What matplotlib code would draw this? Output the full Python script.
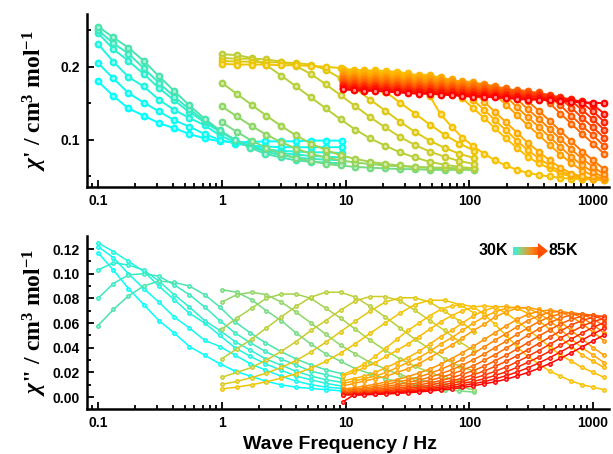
import numpy as np
import matplotlib
matplotlib.use("Agg")
import matplotlib.pyplot as plt
from matplotlib.colors import LinearSegmentedColormap
from matplotlib.patches import Polygon, Rectangle
from matplotlib.ticker import FixedLocator, LogLocator, NullFormatter

plt.rcParams['font.family'] = 'Liberation Sans'
plt.rcParams['font.weight'] = 'bold'
plt.rcParams['mathtext.fontset'] = 'custom'
plt.rcParams['mathtext.rm'] = 'Liberation Serif:bold'
plt.rcParams['mathtext.it'] = 'Liberation Serif:italic:bold'
plt.rcParams['mathtext.bf'] = 'Liberation Serif:bold'

# three frequency windows of the ac measurement (Hz)
freq_a = [0.100, 0.133, 0.176, 0.234, 0.310, 0.412, 0.547, 0.727, 0.964,
          1.28, 1.70, 2.25, 2.99, 3.97, 5.27, 7.00, 9.29]
freq_b = [1.00, 1.32, 1.74, 2.29, 3.02, 3.98, 5.25, 6.92, 9.12, 12.0,
          15.8, 20.9, 27.5, 36.3, 47.9, 63.1, 83.2, 110]
freq_c = [9.46, 11.6, 14.2, 17.4, 21.3, 26.1, 31.9, 39.1, 47.9, 58.6, 71.8,
          87.9, 108, 132, 161, 198, 242, 296, 363, 445, 545, 667, 817, 1000, 1225]

# in-phase susceptibility chi' (cm3/mol), lowest temperatures first
chi1_a = [
    [0.180, 0.160, 0.143, 0.133, 0.123, 0.116, 0.108, 0.102, 0.098, 0.097, 0.097, 0.098, 0.098, 0.098, 0.099, 0.099, 0.099],
    [0.205, 0.184, 0.164, 0.151, 0.139, 0.127, 0.118, 0.108, 0.100, 0.095, 0.092, 0.091, 0.090, 0.090, 0.090, 0.090, 0.090],
    [0.231, 0.207, 0.186, 0.173, 0.155, 0.141, 0.130, 0.120, 0.106, 0.097, 0.091, 0.087, 0.085, 0.084, 0.083, 0.083, 0.082],
    [0.246, 0.224, 0.208, 0.190, 0.171, 0.154, 0.138, 0.124, 0.111, 0.100, 0.092, 0.086, 0.082, 0.080, 0.078, 0.077, 0.076],
    [0.250, 0.232, 0.218, 0.198, 0.178, 0.159, 0.142, 0.126, 0.112, 0.100, 0.091, 0.084, 0.079, 0.076, 0.074, 0.073, 0.072],
    [0.255, 0.240, 0.226, 0.208, 0.187, 0.167, 0.147, 0.129, 0.113, 0.100, 0.089, 0.081, 0.076, 0.072, 0.070, 0.069, 0.068],
]
chi1_b = [
    [0.124, 0.111, 0.099, 0.089, 0.081, 0.075, 0.071, 0.067, 0.065, 0.063, 0.062, 0.061, 0.060, 0.060, 0.059, 0.059, 0.059, 0.059],
    [0.146, 0.132, 0.119, 0.107, 0.097, 0.088, 0.081, 0.076, 0.072, 0.069, 0.067, 0.065, 0.064, 0.063, 0.062, 0.062, 0.061, 0.061],
    [0.178, 0.163, 0.148, 0.133, 0.119, 0.106, 0.095, 0.086, 0.079, 0.074, 0.070, 0.067, 0.065, 0.063, 0.062, 0.061, 0.060, 0.060],
    [0.217, 0.216, 0.212, 0.202, 0.188, 0.173, 0.158, 0.143, 0.128, 0.114, 0.102, 0.092, 0.083, 0.076, 0.070, 0.066, 0.063, 0.061],
    [0.212, 0.211, 0.211, 0.210, 0.207, 0.201, 0.190, 0.176, 0.161, 0.146, 0.131, 0.117, 0.104, 0.093, 0.084, 0.077, 0.071, 0.067],
    [0.208, 0.207, 0.207, 0.206, 0.206, 0.205, 0.203, 0.196, 0.184, 0.170, 0.155, 0.140, 0.125, 0.111, 0.099, 0.089, 0.081, 0.075],
    [0.204, 0.203, 0.203, 0.203, 0.202, 0.202, 0.201, 0.200, 0.198, 0.192, 0.180, 0.166, 0.151, 0.136, 0.121, 0.107, 0.095, 0.085],
]
chi1_c = [
    [0.197, 0.196, 0.195, 0.195, 0.194, 0.193, 0.191, 0.184, 0.160, 0.135, 0.118, 0.103, 0.091, 0.081, 0.072, 0.065, 0.059, 0.055, 0.052, 0.050, 0.048, 0.047, 0.046, 0.046, 0.045],
    [0.195, 0.194, 0.193, 0.193, 0.192, 0.191, 0.190, 0.189, 0.189, 0.183, 0.171, 0.157, 0.143, 0.130, 0.116, 0.102, 0.089, 0.077, 0.068, 0.061, 0.054, 0.050, 0.047, 0.046, 0.045],
    [0.193, 0.192, 0.191, 0.191, 0.190, 0.189, 0.188, 0.187, 0.187, 0.186, 0.180, 0.168, 0.154, 0.141, 0.127, 0.113, 0.099, 0.086, 0.075, 0.065, 0.057, 0.052, 0.049, 0.047, 0.046],
    [0.191, 0.190, 0.189, 0.189, 0.188, 0.187, 0.186, 0.185, 0.185, 0.184, 0.183, 0.177, 0.165, 0.152, 0.138, 0.124, 0.110, 0.096, 0.084, 0.072, 0.062, 0.054, 0.050, 0.047, 0.046],
    [0.189, 0.188, 0.187, 0.187, 0.186, 0.185, 0.184, 0.183, 0.183, 0.182, 0.181, 0.180, 0.179, 0.174, 0.162, 0.148, 0.134, 0.120, 0.107, 0.093, 0.080, 0.068, 0.058, 0.051, 0.047],
    [0.187, 0.186, 0.185, 0.185, 0.184, 0.183, 0.182, 0.181, 0.181, 0.180, 0.179, 0.178, 0.177, 0.177, 0.171, 0.159, 0.145, 0.131, 0.118, 0.104, 0.090, 0.077, 0.065, 0.056, 0.049],
    [0.185, 0.184, 0.183, 0.183, 0.182, 0.181, 0.180, 0.179, 0.179, 0.178, 0.177, 0.176, 0.175, 0.175, 0.174, 0.168, 0.156, 0.142, 0.129, 0.115, 0.101, 0.087, 0.074, 0.063, 0.053],
    [0.183, 0.182, 0.181, 0.181, 0.180, 0.179, 0.178, 0.177, 0.177, 0.176, 0.175, 0.174, 0.173, 0.173, 0.172, 0.171, 0.165, 0.153, 0.140, 0.126, 0.112, 0.098, 0.084, 0.072, 0.060],
    [0.181, 0.180, 0.179, 0.179, 0.178, 0.177, 0.176, 0.175, 0.175, 0.174, 0.173, 0.172, 0.171, 0.171, 0.170, 0.169, 0.168, 0.167, 0.162, 0.150, 0.136, 0.122, 0.108, 0.095, 0.081],
    [0.179, 0.178, 0.177, 0.177, 0.176, 0.175, 0.174, 0.173, 0.173, 0.172, 0.171, 0.170, 0.169, 0.169, 0.168, 0.167, 0.166, 0.165, 0.165, 0.159, 0.147, 0.133, 0.119, 0.106, 0.092],
    [0.177, 0.176, 0.175, 0.175, 0.174, 0.173, 0.172, 0.171, 0.171, 0.170, 0.169, 0.168, 0.167, 0.167, 0.166, 0.165, 0.164, 0.163, 0.163, 0.162, 0.156, 0.144, 0.130, 0.117, 0.103],
    [0.175, 0.174, 0.173, 0.173, 0.172, 0.171, 0.170, 0.169, 0.169, 0.168, 0.167, 0.166, 0.165, 0.165, 0.164, 0.163, 0.162, 0.161, 0.161, 0.160, 0.159, 0.153, 0.141, 0.128, 0.114],
    [0.173, 0.172, 0.171, 0.171, 0.170, 0.169, 0.168, 0.167, 0.167, 0.166, 0.165, 0.164, 0.163, 0.163, 0.162, 0.161, 0.160, 0.159, 0.159, 0.158, 0.157, 0.156, 0.150, 0.139, 0.125],
    [0.171, 0.170, 0.169, 0.169, 0.168, 0.167, 0.166, 0.165, 0.165, 0.164, 0.163, 0.162, 0.161, 0.161, 0.160, 0.159, 0.158, 0.157, 0.157, 0.156, 0.155, 0.154, 0.153, 0.148, 0.136],
    [0.169, 0.168, 0.167, 0.167, 0.166, 0.165, 0.164, 0.163, 0.163, 0.162, 0.161, 0.160, 0.159, 0.159, 0.158, 0.157, 0.156, 0.155, 0.155, 0.154, 0.153, 0.152, 0.151, 0.151, 0.150],
]

# out-of-phase susceptibility chi'' (cm3/mol)
chi2_a = [
    [0.117, 0.103, 0.088, 0.075, 0.062, 0.052, 0.041, 0.034, 0.027, 0.021, 0.017, 0.013, 0.010, 0.008, 0.007, 0.006, 0.005],
    [0.122, 0.113, 0.100, 0.088, 0.077, 0.065, 0.056, 0.046, 0.041, 0.034, 0.027, 0.022, 0.017, 0.013, 0.010, 0.008, 0.007],
    [0.125, 0.118, 0.110, 0.102, 0.090, 0.079, 0.068, 0.060, 0.050, 0.040, 0.033, 0.027, 0.022, 0.017, 0.014, 0.011, 0.009],
    [0.103, 0.109, 0.107, 0.103, 0.094, 0.083, 0.073, 0.062, 0.054, 0.045, 0.038, 0.031, 0.026, 0.021, 0.017, 0.014, 0.012],
    [0.080, 0.092, 0.099, 0.100, 0.098, 0.091, 0.083, 0.073, 0.062, 0.052, 0.044, 0.037, 0.031, 0.026, 0.021, 0.018, 0.015],
    [0.058, 0.071, 0.082, 0.090, 0.094, 0.093, 0.090, 0.083, 0.073, 0.061, 0.052, 0.044, 0.037, 0.031, 0.026, 0.022, 0.019],
]
chi2_b = [
    [0.087, 0.085, 0.079, 0.070, 0.062, 0.052, 0.043, 0.035, 0.029, 0.023, 0.019, 0.015, 0.012, 0.010, 0.008, 0.006, 0.005, 0.004],
    [0.077, 0.083, 0.085, 0.083, 0.077, 0.069, 0.060, 0.051, 0.042, 0.035, 0.028, 0.023, 0.018, 0.015, 0.012, 0.010, 0.008, 0.006],
    [0.055, 0.064, 0.072, 0.080, 0.0835, 0.0835, 0.080, 0.072, 0.064, 0.055, 0.046, 0.038, 0.031, 0.025, 0.020, 0.016, 0.013, 0.011],
    [0.031, 0.039, 0.047, 0.056, 0.065, 0.0735, 0.081, 0.085, 0.085, 0.081, 0.0735, 0.065, 0.056, 0.047, 0.039, 0.031, 0.025, 0.021],
    [0.016, 0.020, 0.024, 0.030, 0.037, 0.045, 0.054, 0.062, 0.0705, 0.078, 0.0815, 0.0815, 0.078, 0.0705, 0.062, 0.054, 0.045, 0.037],
    [0.0103, 0.0127, 0.0158, 0.0194, 0.024, 0.0296, 0.0366, 0.0444, 0.053, 0.0616, 0.0697, 0.077, 0.0805, 0.0805, 0.077, 0.0697, 0.0616, 0.053],
    [0.0066, 0.0081, 0.010, 0.0124, 0.0154, 0.019, 0.0234, 0.0289, 0.0357, 0.0433, 0.0517, 0.060, 0.068, 0.075, 0.0785, 0.0785, 0.075, 0.068],
]
chi2_c = [
    [0.018, 0.022, 0.027, 0.033, 0.040, 0.047, 0.054, 0.060, 0.066, 0.071, 0.074, 0.075, 0.073, 0.067, 0.059, 0.050, 0.041, 0.033, 0.027, 0.021, 0.017, 0.013, 0.010, 0.008, 0.006],
    [0.017, 0.020, 0.024, 0.028, 0.033, 0.038, 0.043, 0.049, 0.055, 0.061, 0.066, 0.070, 0.073, 0.074, 0.073, 0.068, 0.062, 0.055, 0.048, 0.041, 0.034, 0.029, 0.024, 0.020, 0.016],
    [0.013, 0.015, 0.017, 0.020, 0.024, 0.028, 0.032, 0.037, 0.043, 0.049, 0.054, 0.060, 0.066, 0.070, 0.073, 0.0735, 0.072, 0.068, 0.062, 0.055, 0.048, 0.041, 0.034, 0.029, 0.024],
    [0.011, 0.013, 0.015, 0.017, 0.020, 0.024, 0.028, 0.032, 0.037, 0.043, 0.048, 0.054, 0.060, 0.065, 0.069, 0.072, 0.073, 0.072, 0.068, 0.062, 0.055, 0.047, 0.040, 0.034, 0.028],
    [0.009, 0.011, 0.013, 0.015, 0.017, 0.020, 0.023, 0.027, 0.032, 0.037, 0.042, 0.048, 0.054, 0.059, 0.065, 0.069, 0.072, 0.0725, 0.071, 0.067, 0.061, 0.054, 0.047, 0.040, 0.034],
    [0.0065, 0.0076, 0.009, 0.0104, 0.0123, 0.0141, 0.0166, 0.0195, 0.0228, 0.0266, 0.0312, 0.036, 0.0412, 0.0467, 0.0522, 0.0577, 0.0629, 0.0669, 0.0696, 0.0705, 0.069, 0.065, 0.0595, 0.0527, 0.0457],
    [0.0055, 0.0064, 0.0075, 0.0088, 0.0103, 0.0122, 0.0139, 0.0163, 0.0192, 0.0224, 0.0263, 0.0307, 0.0354, 0.0407, 0.046, 0.0515, 0.0569, 0.062, 0.066, 0.0686, 0.0695, 0.0681, 0.0643, 0.0587, 0.052],
    [0.0047, 0.0054, 0.0063, 0.0074, 0.0087, 0.0101, 0.012, 0.0137, 0.0161, 0.0189, 0.0221, 0.0259, 0.0303, 0.0349, 0.0401, 0.0453, 0.0508, 0.056, 0.0611, 0.065, 0.0676, 0.0685, 0.0671, 0.0634, 0.0578],
    [0.0038, 0.0046, 0.0053, 0.0062, 0.0073, 0.0086, 0.010, 0.0118, 0.0135, 0.0159, 0.0186, 0.0218, 0.0255, 0.0298, 0.0344, 0.0395, 0.0447, 0.050, 0.0552, 0.0602, 0.0641, 0.0666, 0.0675, 0.0662, 0.0624],
    [0.0033, 0.0038, 0.0045, 0.0053, 0.0061, 0.0072, 0.0084, 0.0098, 0.0116, 0.0133, 0.0156, 0.0184, 0.0215, 0.0251, 0.0294, 0.0339, 0.0389, 0.044, 0.0493, 0.0544, 0.0593, 0.0631, 0.0656, 0.0665, 0.0652],
    [0.0027, 0.0032, 0.0037, 0.0045, 0.0052, 0.006, 0.0071, 0.0083, 0.0097, 0.0115, 0.0131, 0.0154, 0.0181, 0.0212, 0.0248, 0.029, 0.0334, 0.0383, 0.0434, 0.0485, 0.0536, 0.0584, 0.0622, 0.0646, 0.0655],
    [0.0023, 0.0026, 0.0032, 0.0037, 0.0044, 0.0051, 0.0059, 0.007, 0.0082, 0.0095, 0.0113, 0.0129, 0.0152, 0.0178, 0.0208, 0.0244, 0.0285, 0.0329, 0.0377, 0.0427, 0.0478, 0.0528, 0.0575, 0.0612, 0.0637],
    [0.0019, 0.0022, 0.0026, 0.0031, 0.0036, 0.0043, 0.005, 0.0058, 0.0069, 0.0081, 0.0094, 0.0111, 0.0127, 0.0149, 0.0175, 0.0205, 0.024, 0.0281, 0.0324, 0.0371, 0.042, 0.0471, 0.0519, 0.0566, 0.0603],
    [0.0016, 0.0019, 0.0022, 0.0026, 0.0031, 0.0036, 0.0043, 0.0049, 0.0058, 0.0068, 0.0079, 0.0093, 0.0109, 0.0125, 0.0147, 0.0173, 0.0202, 0.0236, 0.0276, 0.0319, 0.0366, 0.0414, 0.0463, 0.0511, 0.0558],
    [-0.004, 0.0016, 0.0018, 0.0022, 0.0025, 0.003, 0.0035, 0.0042, 0.0049, 0.0057, 0.0066, 0.0078, 0.0091, 0.0108, 0.0123, 0.0145, 0.017, 0.0199, 0.0232, 0.0272, 0.0314, 0.036, 0.0407, 0.0456, 0.0503],
]

x_ticks = [0.1, 1, 10, 100, 1000]
x_ticklabels = ['0.1', '1', '10', '100', '1000']

temp_cmap = LinearSegmentedColormap.from_list(
    'temp', [(0.00, '#00ffff'), (0.185, '#48e4b0'), (0.222, '#78da80'),
             (0.30, '#a6d248'), (0.37, '#cccc28'), (0.44, '#eec400'),
             (0.50, '#fcc000'), (0.62, '#ffa400'), (0.80, '#ff6000'),
             (1.00, '#ff0000')])

n_curves = len(chi1_a) + len(chi1_b) + len(chi1_c)
colors = [temp_cmap(i / (n_curves - 1)) for i in range(n_curves)]

fig = plt.figure(figsize=(6.13, 4.54), dpi=100)
ax1 = fig.add_axes([0.142, 0.588, 0.852, 0.381])
ax2 = fig.add_axes([0.142, 0.099, 0.852, 0.381])


def draw_family(ax, groups, ms, lw):
    i = 0
    for freqs, curves in groups:
        for ys in curves:
            c = colors[i]
            ax.plot(freqs, ys, '-', color=c, lw=lw, marker='o', ms=ms,
                    mfc=c, mec=c, mew=0)
            # little highlight so the markers look like shaded beads
            ax.plot(freqs, ys, 'o', ms=ms * 0.42, mfc='white', mec='none',
                    alpha=0.55)
            i += 1


draw_family(ax1, [(freq_a, chi1_a), (freq_b, chi1_b), (freq_c, chi1_c)], 5.6, 1.4)
draw_family(ax2, [(freq_a, chi2_a), (freq_b, chi2_b), (freq_c, chi2_c)], 3.5, 1.1)


def style(ax, ylim, yticks, ylabels, yminor):
    ax.set_xscale('log')
    ax.set_xlim(0.0815, 1352)
    ax.set_ylim(*ylim)
    ax.set_xticks(x_ticks)
    ax.set_xticklabels(x_ticklabels)
    ax.xaxis.set_minor_locator(LogLocator(base=10, subs=np.arange(2, 10)))
    ax.xaxis.set_minor_formatter(NullFormatter())
    ax.set_yticks(yticks)
    ax.set_yticklabels(ylabels)
    ax.yaxis.set_minor_locator(FixedLocator(yminor))
    for s in ['top', 'right']:
        ax.spines[s].set_visible(False)
    for s in ['left', 'bottom']:
        ax.spines[s].set_linewidth(1.8)
    ax.tick_params(which='both', direction='in', width=1.3, labelsize=10)
    ax.tick_params(which='major', length=5, pad=5)
    ax.tick_params(which='minor', length=3)
    for lab in ax.get_xticklabels() + ax.get_yticklabels():
        lab.set_fontweight('bold')


style(ax1, (0.0355, 0.272), [0.1, 0.2], ['0.1', '0.2'], [0.05, 0.15, 0.25])
style(ax2, (-0.0097, 0.1305), [0.0, 0.02, 0.04, 0.06, 0.08, 0.10, 0.12],
      ['0.00', '0.02', '0.04', '0.06', '0.08', '0.10', '0.12'],
      [0.01, 0.03, 0.05, 0.07, 0.09, 0.11])

ylab_kw = dict(fontfamily='Liberation Serif', fontweight='bold', fontsize=17)
ax1.set_ylabel(r"$\chi$' / cm$^{3}$ mol$^{-1}$", **ylab_kw)
ax2.set_ylabel(r'$\chi$" / cm$^{3}$ mol$^{-1}$', **ylab_kw)
ax1.yaxis.set_label_coords(-0.072, 0.5)
ax2.yaxis.set_label_coords(-0.072, 0.5)
ax2.set_xlabel('Wave Frequency / Hz', fontsize=14, fontweight='bold')
ax2.xaxis.set_label_coords(0.484, -0.155)


# temperature arrow (30 K -> 85 K) drawn in figure pixels
W, H = 613.0, 454.0


def fx(px):
    return px / W


def fy(py):
    return 1 - py / H


fig.text(fx(493), fy(251), '30K', ha='center', va='center', fontsize=11.5,
         fontweight='bold')
fig.text(fx(563), fy(251), '85K', ha='center', va='center', fontsize=11.5,
         fontweight='bold')
arrow_cmap = LinearSegmentedColormap.from_list(
    'arrow', ['#30f0e8', '#7ed88a', '#d2a640', '#ff7a10', '#ff5000'])
x0, x1, nseg = 513.0, 540.0, 40
for j in range(nseg):
    xa = x0 + (x1 - x0) * j / nseg
    fig.patches.append(Rectangle((fx(xa), fy(255)), (x1 - x0) / nseg / W + 0.0005,
                                 8 / H, transform=fig.transFigure,
                                 facecolor=arrow_cmap(j / nseg), edgecolor='none'))
fig.patches.append(Polygon([(fx(538), fy(243)), (fx(548), fy(251)), (fx(538), fy(259))],
                           closed=True, transform=fig.transFigure,
                           facecolor='#ff5000', edgecolor='none'))

fig.savefig('out.png', dpi=100)
